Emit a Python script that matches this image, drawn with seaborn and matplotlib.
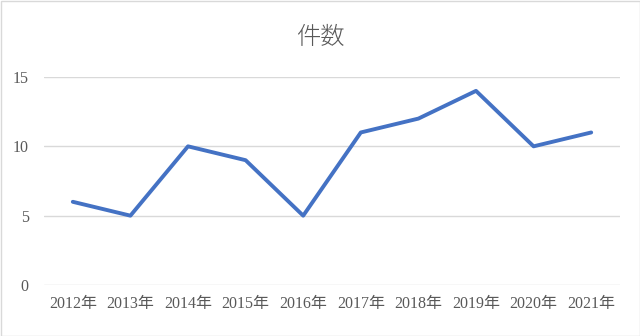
import matplotlib
matplotlib.use("Agg")
import matplotlib.pyplot as plt
import seaborn as sns
import pandas as pd
from matplotlib.patches import Rectangle

years = ["2012年", "2013年", "2014年", "2015年", "2016年",
         "2017年", "2018年", "2019年", "2020年", "2021年"]
counts = [6, 5, 10, 9, 5, 11, 12, 14, 10, 11]
yticks = [0, 5, 10, 15]
title = "件数"

sns.set_theme(style="white")
plt.rcParams['font.family'] = ['Liberation Serif', 'Noto Sans CJK JP', 'DejaVu Sans']

df = pd.DataFrame({"year": years, "count": counts})

fig = plt.figure(figsize=(6.4, 3.36), dpi=100)
ax = fig.add_axes([44/640, 1-285/336, 576/640, 208/336])

sns.lineplot(data=df, x="year", y="count", ax=ax, color="#4472C4",
             linewidth=2.8, sort=False)

ax.set_xlim(-0.5, len(years) - 0.5)
ax.set_ylim(0, 15)
ax.set_yticks(yticks)
ax.yaxis.grid(True, color="#D9D9D9", linewidth=1)
ax.xaxis.grid(False)
for s in ax.spines.values():
    s.set_visible(False)
ax.set_xlabel("")
ax.set_ylabel("")
ax.tick_params(axis="both", length=0, labelsize=11.5, colors="#595959")
ax.tick_params(axis="x", pad=8)
ax.tick_params(axis="y", pad=11)
ax.set_axisbelow(True)

fig.text(0.5, 1-37/336, title, ha="center", va="center", fontsize=17.5,
         color="#595959", family=['Noto Sans CJK JP', 'DejaVu Sans'], fontweight="light")

fig.patches.append(Rectangle((0.5/640, 0.5/336), 1-1/640, 1-1/336,
                             transform=fig.transFigure, fill=False,
                             edgecolor="#D9D9D9", linewidth=1))

fig.savefig("out.png", dpi=100)
